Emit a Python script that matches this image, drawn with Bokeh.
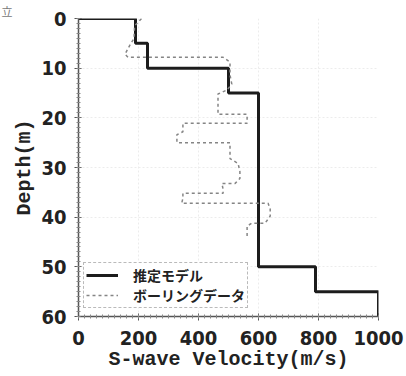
from bokeh.plotting import figure
from bokeh.models import Legend, LegendItem, FixedTicker
from bokeh.embed import file_html
from bokeh.resources import INLINE

# Estimated model (layered): layer boundaries (m) and S-wave velocity per layer (m/s)
model_depth_bounds = [0, 5, 10, 15, 50, 55, 60]
model_vs = [190, 230, 500, 600, 790, 1000]

# Boring (PS logging) data polyline
boring_vs = [210, 187, 185, 170, 155, 165, 482, 505, 505, 511, 495, 465, 465, 562, 562,
             348, 348, 328, 328, 505, 505, 532, 538, 538, 522, 478, 482, 482, 348, 348,
             344, 632, 639, 639, 622, 578, 562, 562]
boring_depth = [0, 1.5, 4, 5.5, 7.2, 7.8, 7.8, 8.8, 11.4, 13.2, 14.4, 15.2, 19.3, 19.3, 21.1,
                21.1, 22.8, 23.4, 25, 25, 28.2, 29.2, 30.8, 32.2, 33.2, 33.2, 34.4, 35.2, 35.2, 36.2,
                37.2, 37.2, 38.4, 39.8, 41.2, 41.2, 41.8, 44]

x_ticks = [0, 200, 400, 600, 800, 1000]
y_ticks = [0, 10, 20, 30, 40, 50, 60]
legend_labels = ["推定モデル", "ボーリングデータ"]
corner_text = "立"

# build the step profile from the layer arrays (starting at the surface from the axis)
mx, my = [0], [model_depth_bounds[0]]
for i, v in enumerate(model_vs):
    mx += [v, v]
    my += [model_depth_bounds[i], model_depth_bounds[i + 1]]

p = figure(width=406, height=376, output_backend="svg", toolbar_location=None,
           x_range=(0, 1000), y_range=(60, 0),
           min_border_left=78, min_border_right=28, min_border_top=16, min_border_bottom=60)
p.outline_line_color = None
p.background_fill_color = "white"

# scanned fragment of a character in the top-left corner
p.title.text = corner_text
p.title.align = "left"
p.title.offset = -77
p.title.standoff = 0
p.title.text_font = "'Noto Sans CJK JP'"
p.title.text_font_style = "normal"
p.title.text_font_size = "11px"
p.title.text_color = "#777777"

r_model = p.line(mx, my, line_color="#1c1c1c", line_width=3)
r_bore = p.line(boring_vs, boring_depth, line_color="#858585", line_width=1.5, line_dash="3 3")

tick_font = "'Liberation Sans Narrow', 'DejaVu Sans Condensed', 'Liberation Sans', sans-serif"
label_font = "'Liberation Mono', 'DejaVu Sans Mono', monospace"

p.xaxis.ticker = FixedTicker(ticks=x_ticks, minor_ticks=list(range(0, 1001, 20)))
p.yaxis.ticker = FixedTicker(ticks=y_ticks, minor_ticks=list(range(0, 61, 1)))
for ax in (p.xaxis[0], p.yaxis[0]):
    ax.major_label_text_font = tick_font
    ax.major_label_text_font_style = "bold"
    ax.major_label_text_font_size = "20px"
    ax.major_label_text_color = "#222222"
    ax.axis_line_color = "#555555"
    ax.axis_line_width = 1.5
    ax.major_tick_line_color = "#555555"
    ax.minor_tick_line_color = "#888888"
    ax.major_tick_in = 3
    ax.major_tick_out = 4
    ax.minor_tick_in = 2
    ax.minor_tick_out = 2
    ax.axis_label_text_font = label_font
    ax.axis_label_text_font_style = "bold"
    ax.axis_label_text_font_size = "20px"
    ax.axis_label_text_color = "#222222"
p.xaxis.axis_label = "S-wave Velocity(m/s)"
p.yaxis.axis_label = "Depth(m)"
p.xaxis.major_label_standoff = 10
p.yaxis.major_label_standoff = 8
p.xaxis.axis_label_standoff = 0
p.yaxis.axis_label_standoff = 2

p.xgrid.ticker = FixedTicker(ticks=x_ticks)
p.ygrid.ticker = FixedTicker(ticks=y_ticks)
p.grid.grid_line_color = "#ececec"
p.grid.grid_line_dash = "2 2"

legend = Legend(items=[LegendItem(label=legend_labels[0], renderers=[r_model]),
                       LegendItem(label=legend_labels[1], renderers=[r_bore])],
                location=(5, 8), margin=0, padding=2, spacing=0,
                glyph_width=32, glyph_height=16, label_height=16, label_standoff=15,
                label_text_font="'Noto Sans CJK JP'", label_text_font_style="bold",
                label_text_font_size="14px", label_text_color="#222222",
                label_text_line_height=0.9,
                border_line_color="#777777", border_line_width=1.5, border_line_dash="2 1",
                background_fill_color="white", background_fill_alpha=1)
p.add_layout(legend)

open("out.html", "w").write(file_html(p, INLINE))
